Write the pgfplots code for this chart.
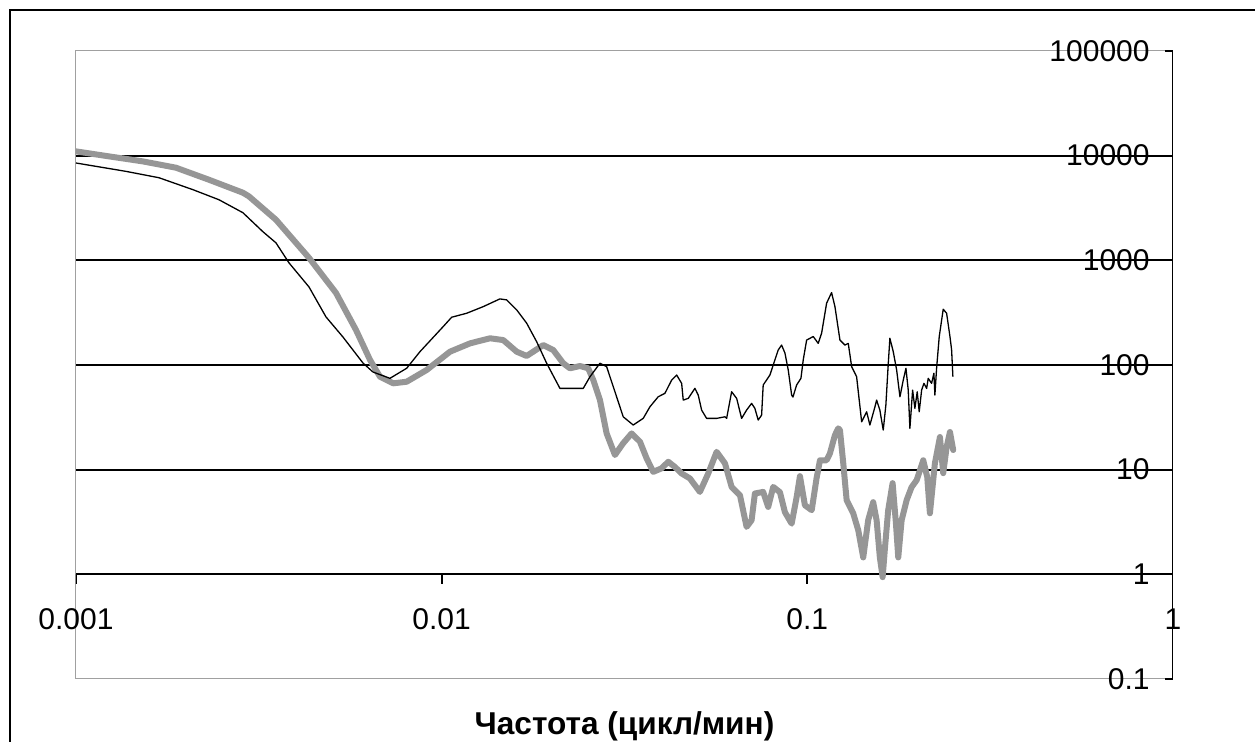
\documentclass[border=0pt]{standalone}
\usepackage{fontspec}
\setmainfont{Liberation Sans}
\usepackage{pgfplots}
\usepackage{pgfplotstable}
\pgfplotsset{compat=1.18}
\definecolor{bordergray}{RGB}{160,160,160}
\definecolor{seriesgray}{RGB}{150,150,150}

\pgfplotstableread{
x y
0.001 8511
0.001134 7906
0.001370 7079
0.001687 6152
0.002089 4730
0.002460 3793
0.002861 2851
0.003246 1875
0.003523 1470
0.003824 946
0.004337 557
0.004827 288
0.005372 185
0.006093 104.5
0.006489 85.7
0.007222 74.6
0.008022 93.0
0.008723 134
0.01010 233
0.01065 286
0.01170 312
0.01299 361
0.01443 428
0.01506 419
0.01604 336
0.01708 251
0.01819 167
0.01937 104
0.02106 59.8
0.02439 59.8
0.02545 77.3
0.02710 104
0.02826 96.4
0.02947 62.0
0.03137 32.0
0.03341 26.7
0.03558 30.9
0.03712 39.9
0.03911 49.7
0.04079 53.6
0.04256 71.8
0.04392 80.2
0.04532 66.8
0.04578 46.2
0.04725 48.0
0.04928 59.8
0.05031 51.6
0.05140 37.1
0.05304 30.9
0.05649 30.9
0.05953 32.0
0.06017 30.9
0.06209 55.5
0.06408 48.0
0.06612 30.9
0.06823 37.1
0.07041 43.0
0.07189 38.5
0.07340 29.8
0.07499 33.2
0.07575 64.4
0.07901 80.2
0.08068 100
0.08325 139
0.08505 155
0.08686 130
0.08868 89.6
0.09060 51.6
0.09134 49.4
0.09349 64.4
0.09606 74.6
0.09746 112
0.09957 173
0.1038 187
0.1071 161
0.1094 201
0.1129 389
0.1165 492
0.1190 361
0.1228 173
0.1267 155
0.1294 161
0.1322 96.4
0.1364 77.3
0.1393 39.9
0.1408 28.7
0.1453 35.7
0.1483 26.7
0.1531 39.9
0.1547 46.2
0.1579 37.1
0.1613 23.9
0.1640 41.4
0.1664 100
0.1682 180
0.1718 134
0.1755 89.6
0.1792 49.7
0.1830 71.8
0.1861 93.0
0.1888 57.6
0.1908 24.8
0.1941 57.6
0.1969 38.5
0.1998 55.5
0.2023 35.7
0.2054 57.6
0.2084 66.8
0.2120 59.8
0.2141 74.6
0.2187 66.8
0.2219 83.3
0.2233 51.6
0.2257 93.0
0.2295 187
0.2353 341
0.2404 312
0.2455 187
0.2481 139
0.2501 77.3
}\blackseries

\pgfplotstableread{
x y
0.001 10990
0.001231 9844
0.001525 8810
0.001877 7674
0.002310 5888
0.002861 4426
0.002972 4083
0.003523 2443
0.004337 1057
0.005140 489
0.005832 216
0.006368 112
0.006782 77.3
0.007375 66.8
0.008022 69.2
0.009099 89.6
0.01054 134
0.01196 161
0.01356 180
0.01474 173
0.01604 134
0.01708 122
0.01780 134
0.01896 155
0.02019 139
0.02150 104
0.02243 93.0
0.02389 97.8
0.02517 93.0
0.02598 71.8
0.02710 46.2
0.02826 22.2
0.02978 13.8
0.03137 17.9
0.03308 22.2
0.03486 18.5
0.03636 12.8
0.03790 9.53
0.03996 10.3
0.04166 11.9
0.04345 10.6
0.04532 9.20
0.04775 8.24
0.05084 6.13
0.05358 9.20
0.05649 14.8
0.05953 11.5
0.06209 6.84
0.06543 5.70
0.06823 2.84
0.07041 3.29
0.07189 5.92
0.07575 6.13
0.07818 4.41
0.08068 6.84
0.08416 6.09
0.08686 3.92
0.09060 3.05
0.09349 5.46
0.09546 8.67
0.09849 4.57
0.1028 4.10
0.1060 8.29
0.1083 12.3
0.1129 12.3
0.1153 14.3
0.1190 21.4
0.1215 24.8
0.1228 23.9
0.1254 11.5
0.1281 5.11
0.1335 3.83
0.1378 2.64
0.1422 1.45
0.1467 3.29
0.1514 4.89
0.1547 3.29
0.1579 1.45
0.1607 0.94
0.1631 1.81
0.1664 4.10
0.1711 7.43
0.1747 3.08
0.1773 1.45
0.1811 3.29
0.1869 5.11
0.1928 6.80
0.1991 7.94
0.2075 12.3
0.2128 8.48
0.2164 3.83
0.2233 11.5
0.2305 20.5
0.2353 9.26
0.2404 16.4
0.2455 22.9
0.2506 15.4
}\grayseries

\begin{document}
\begin{tikzpicture}
\path[use as bounding box] (0,0) rectangle (627.5pt,-371pt);
\draw[line width=1pt] (4.75pt,-371pt) -- (4.75pt,-5pt) -- (627.5pt,-5pt);
\begin{axis}[
  at={(38pt,-25.5pt)}, anchor=north west,
  scale only axis, width=548.5pt, height=314pt,
  xmode=log, ymode=log,
  xmin=0.001, xmax=1, ymin=0.1, ymax=100000,
  xminorticks=false, yminorticks=false,
  axis line style={draw=bordergray, line width=0.5pt},
  xtick={0.001,0.01,0.1,1},
  xticklabels={0.001,0.01,0.1,1},
  xtick style={draw=none},
  xticklabel style={anchor=north, inner sep=0pt, yshift=35.5pt},
  ytick={1,10,100,1000,10000},
  yticklabels={1,10,100,1000,10000},
  extra y ticks={0.1,100000},
  extra y tick labels={0.1,100000},
  extra y tick style={grid=none},
  ytick pos=right, yticklabel pos=right,
  tick align=inside, major tick length=4pt,
  ytick style={black, line width=0.9pt},
  yticklabel style={anchor=east, inner sep=0pt, xshift=-11.5pt},
  ymajorgrids, major grid style={black, line width=0.9pt},
  tick label style={font=\fontsize{15}{18}\selectfont, text=black},
  xlabel={Частота (цикл/мин)},
  xlabel style={at={(rel axis cs:0.5,0)}, anchor=north, inner sep=0pt, yshift=-16pt, font=\fontsize{15.8}{18}\selectfont\bfseries},
  clip=true,
]
\draw[black, line width=0.9pt] (axis cs:0.001,1) -- (axis cs:1,1);
\draw[black, line width=1pt] (rel axis cs:1,0) -- (rel axis cs:1,1);
\draw[black, line width=0.9pt] (axis cs:0.001,1) -- ([yshift=-5pt]axis cs:0.001,1);
\draw[black, line width=0.9pt] (axis cs:0.01,1) -- ([yshift=-5pt]axis cs:0.01,1);
\draw[black, line width=0.9pt] (axis cs:0.1,1) -- ([yshift=-5pt]axis cs:0.1,1);
\draw[black, line width=0.9pt] (axis cs:1,1) -- ([yshift=-5pt]axis cs:1,1);
\addplot[seriesgray, line width=3pt, line join=round, line cap=round, mark=none] table {\grayseries};
\addplot[black, line width=0.65pt, line join=round, mark=none] table {\blackseries};
\end{axis}
\end{tikzpicture}
\end{document}
